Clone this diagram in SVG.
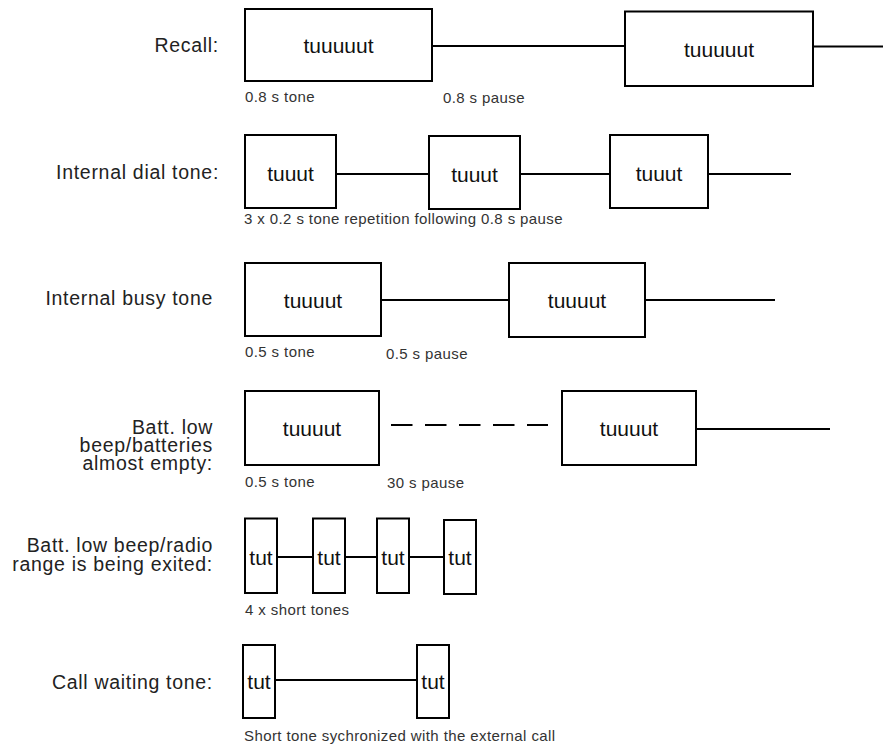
<svg xmlns="http://www.w3.org/2000/svg" width="883" height="749" viewBox="0 0 883 749">
<style>
.box{fill:#fff;stroke:#000;stroke-width:2}
.ln{stroke:#000;stroke-width:2;fill:none}
.dash{stroke-dasharray:21.5 12.5}
.bt{font-family:"Liberation Sans",Arial,sans-serif;font-size:21px;fill:#111;text-anchor:middle}
.lb{font-family:"Liberation Sans",Arial,sans-serif;font-size:19.5px;fill:#222;text-anchor:end;letter-spacing:0.7px}
.cap{font-family:"Liberation Sans",Arial,sans-serif;font-size:15px;fill:#333;letter-spacing:0.4px}
</style>
<rect width="883" height="749" fill="#fff"/>

<g id="labels">
<text class="lb" x="219" y="52">Recall:</text>
<text class="lb" x="219" y="179">Internal dial tone:</text>
<text class="lb" x="213" y="305">Internal busy tone</text>
<text class="lb" x="213" y="434">Batt. low</text>
<text class="lb" x="213" y="452">beep/batteries</text>
<text class="lb" x="213" y="470">almost empty:</text>
<text class="lb" x="213" y="552">Batt. low beep/radio</text>
<text class="lb" x="213" y="571">range is being exited:</text>
<text class="lb" x="213" y="689">Call waiting tone:</text>
</g>

<g id="captions">
<text class="cap" x="245" y="102">0.8 s tone</text>
<text class="cap" x="443" y="103">0.8 s pause</text>
<text class="cap" x="244" y="224">3 x 0.2 s tone repetition following 0.8 s pause</text>
<text class="cap" x="245" y="357">0.5 s tone</text>
<text class="cap" x="386" y="359">0.5 s pause</text>
<text class="cap" x="245" y="487">0.5 s tone</text>
<text class="cap" x="387" y="488">30 s pause</text>
<text class="cap" x="245" y="615">4 x short tones</text>
<text class="cap" x="244" y="741">Short tone sychronized with the external call</text>
</g>

<g id="connectors">
<line class="ln" x1="432" y1="46" x2="625" y2="46"/>
<line class="ln" x1="813" y1="46.5" x2="883" y2="46.5"/>
<line class="ln" x1="336" y1="174" x2="429" y2="174"/>
<line class="ln" x1="520" y1="174" x2="610" y2="174"/>
<line class="ln" x1="708" y1="174" x2="791" y2="174"/>
<line class="ln" x1="381" y1="300" x2="509" y2="300"/>
<line class="ln" x1="645" y1="300" x2="775" y2="300"/>
<line class="ln dash" x1="391" y1="425" x2="548" y2="425"/>
<line class="ln" x1="696" y1="429" x2="830" y2="429"/>
<line class="ln" x1="277" y1="557" x2="313" y2="557"/>
<line class="ln" x1="345" y1="557" x2="377" y2="557"/>
<line class="ln" x1="409" y1="557" x2="444" y2="557"/>
<line class="ln" x1="275" y1="680" x2="417" y2="680"/>
</g>

<g id="recall-1"><rect class="box" x="245" y="9" width="187" height="72"/><text class="bt" x="338.5" y="53">tuuuuut</text></g>
<g id="recall-2"><rect class="box" x="625" y="11.5" width="188" height="74.5"/><text class="bt" x="719" y="57">tuuuuut</text></g>

<g id="dial-1"><rect class="box" x="245" y="135" width="91" height="73"/><text class="bt" x="290.5" y="181">tuuut</text></g>
<g id="dial-2"><rect class="box" x="429" y="136" width="91" height="73"/><text class="bt" x="474.5" y="182">tuuut</text></g>
<g id="dial-3"><rect class="box" x="610" y="135" width="98" height="73"/><text class="bt" x="659" y="181">tuuut</text></g>

<g id="busy-1"><rect class="box" x="245" y="263" width="136" height="73"/><text class="bt" x="313" y="308">tuuuut</text></g>
<g id="busy-2"><rect class="box" x="509" y="263" width="136" height="74"/><text class="bt" x="577" y="308">tuuuut</text></g>

<g id="batt-1"><rect class="box" x="245" y="391" width="134" height="74"/><text class="bt" x="312" y="436">tuuuut</text></g>
<g id="batt-2"><rect class="box" x="562" y="391" width="134" height="74"/><text class="bt" x="629" y="436">tuuuut</text></g>

<g id="range-1"><rect class="box" x="245" y="518.5" width="32" height="74.5"/><text class="bt" x="261" y="565">tut</text></g>
<g id="range-2"><rect class="box" x="313" y="518.5" width="32" height="74.5"/><text class="bt" x="329" y="565">tut</text></g>
<g id="range-3"><rect class="box" x="377" y="518.5" width="32" height="74.5"/><text class="bt" x="393" y="565">tut</text></g>
<g id="range-4"><rect class="box" x="444" y="520" width="32" height="74"/><text class="bt" x="460" y="565">tut</text></g>

<g id="wait-1"><rect class="box" x="243" y="645" width="32" height="73"/><text class="bt" x="259" y="689">tut</text></g>
<g id="wait-2"><rect class="box" x="417" y="645" width="32" height="73"/><text class="bt" x="433" y="689">tut</text></g>
</svg>
